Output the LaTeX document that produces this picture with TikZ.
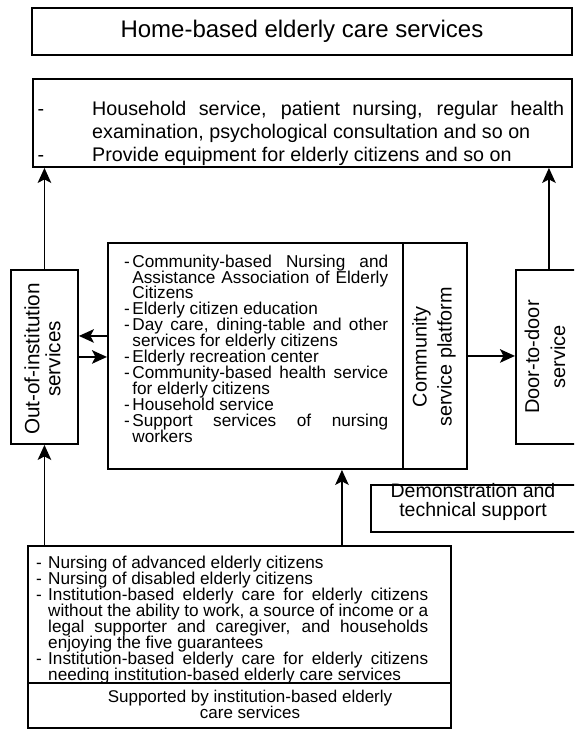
\documentclass[tikz,border=0pt]{standalone}
\usepackage{fontspec}
\setmainfont{Liberation Sans}
\usetikzlibrary{arrows.meta}
\newcommand\dashitem[1]{\par\noindent\hangindent=#1\hangafter=1\makebox[#1][l]{-}\ignorespaces}
\newcommand\listsetup{\tolerance=10000\hyphenpenalty=10000\exhyphenpenalty=10000\lineskiplimit=-100pt\emergencystretch=0pt\relax}
\newcommand\tightlines{\lineskiplimit=-100pt\relax}
\begin{document}
\begin{tikzpicture}[x=1pt,y=-1pt,
  boxnode/.style={draw,line width=1.9pt,inner sep=0pt,anchor=north west},
  conn/.style={line width=1.9pt,-{Stealth[length=15pt,width=13.5pt,inset=3.5pt]}},
  listtext/.style={inner sep=0pt,anchor=north west,align=justify},
  vtext/.style={rotate=90,align=center,inner sep=0pt},
  ctext/.style={align=center,inner sep=0pt}
]
\useasboundingbox (0,0) rectangle (574,729);
\fill[white] (0,0) rectangle (574,729);
\clip (0,0) rectangle (574,729);

% top boxes
\node[boxnode,minimum width=540pt,minimum height=47pt,font={\fontsize{24pt}{28pt}\selectfont}] (title) at (31,7) {Home-based elderly care services};
\node[boxnode,minimum width=539pt,minimum height=88pt] (svc) at (32,78) {};
\node[listtext,text width=526.5pt,font={\fontsize{19.7pt}{23pt}\selectfont}] (svctext) at (37.5,91.9) {\listsetup
\dashitem{54.5pt}Household service, patient nursing, regular health\break
examination, psychological consultation and so on
\dashitem{54.5pt}Provide equipment for elderly citizens and so on\par};

% middle row
\node[boxnode,minimum width=67pt,minimum height=174pt] (out) at (10,269) {};
\node[vtext,font={\fontsize{20.7pt}{21pt}\selectfont\tightlines}] (outtext) at (42.5,359) {Out-of-institution\\services};

\node[boxnode,minimum width=295pt,minimum height=226pt] (mid) at (107,242) {};
\node[boxnode,minimum width=64pt,minimum height=226pt] (plat) at (402,242) {};
\node[listtext,text width=264pt,font={\fontsize{17.2pt}{15.9pt}\selectfont}] (midtext) at (124,251) {\listsetup
\dashitem{8.2pt}Community-based Nursing and\break
Assistance Association of Elderly\break
Citizens
\dashitem{8.2pt}Elderly citizen education
\dashitem{8.2pt}Day care, dining-table and other\break
services for elderly citizens
\dashitem{8.2pt}Elderly recreation center
\dashitem{8.2pt}Community-based health service\break
for elderly citizens
\dashitem{8.2pt}Household service
\dashitem{8.2pt}Support services of nursing\break
workers\par};
\node[vtext,font={\fontsize{19.8pt}{25pt}\selectfont\tightlines}] (plattext) at (434,357) {Community\\service platform};

\node[boxnode,minimum width=66pt,minimum height=174pt] (door) at (515,269) {};
\node[vtext,font={\fontsize{20pt}{26pt}\selectfont\tightlines}] (doortext) at (545,357) {Door-to-door\\service};

\node[boxnode,minimum width=210pt,minimum height=47pt] (demo) at (370,484) {};
\node[ctext,font={\fontsize{19.5pt}{18.5pt}\selectfont\tightlines}] (demotext) at (473,502) {Demonstration and\\technical support};

% bottom box
\node[boxnode,minimum width=423pt,minimum height=137pt] (inst) at (27,545) {};
\node[listtext,text width=392pt,font={\fontsize{17.2pt}{16pt}\selectfont}] (insttext) at (36,552.7) {\listsetup
\dashitem{12pt}Nursing of advanced elderly citizens
\dashitem{12pt}Nursing of disabled elderly citizens
\dashitem{12pt}Institution-based elderly care for elderly citizens\break
without the ability to work, a source of income or a\break
legal supporter and caregiver, and households\break
enjoying the five guarantees
\dashitem{12pt}Institution-based elderly care for elderly citizens\break
needing institution-based elderly care services\par};
\node[boxnode,minimum width=423pt,minimum height=45pt] (sup) at (27,682) {};
\node[ctext,font={\fontsize{17pt}{16pt}\selectfont\tightlines}] (suptext) at (250,704.4) {Supported by institution-based elderly\\care services};

% connectors
\draw[conn] (out.north) -- (out.north |- svc.south);
\draw[conn] (door.north) -- (door.north |- svc.south);
\draw[conn] ([yshift=20pt]mid.west) -- ([yshift=20pt]mid.west -| out.east);
\draw[conn] (out.east) -- (out.east -| mid.west);
\draw[conn] (plat.east) -- (plat.east -| door.west);
\draw[conn] ([xshift=102.5pt]inst.north) -- ([xshift=102.5pt]inst.north |- mid.south);
\draw[conn] (out.south |- inst.north) -- (out.south);
\end{tikzpicture}
\end{document}
